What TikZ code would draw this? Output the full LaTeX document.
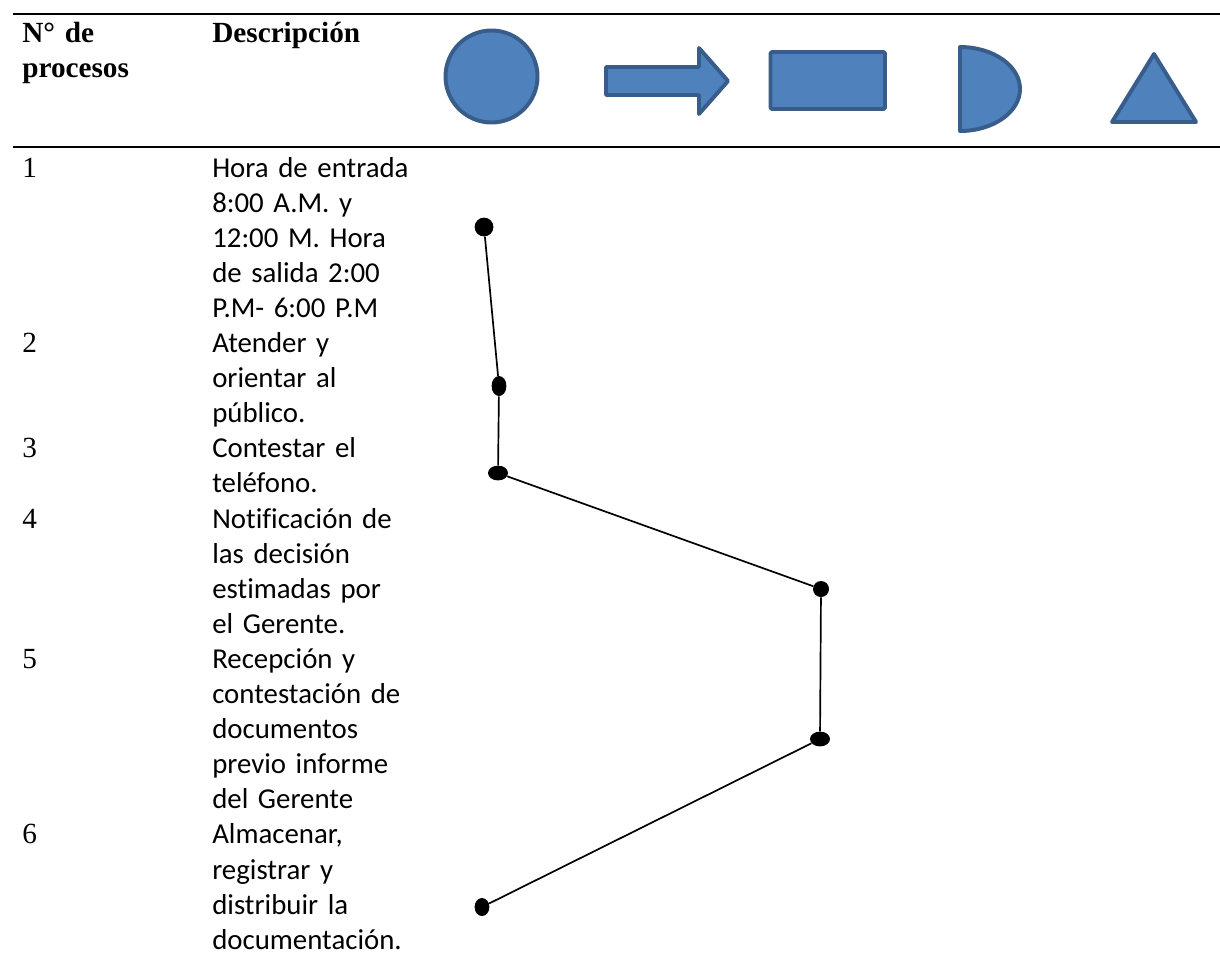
\documentclass[tikz,border=0pt]{standalone}
\usepackage{fontspec}
\setmainfont{Liberation Serif}
\newfontfamily\calibrifont[Ligatures=NoCommon]{Carlito}
\usetikzlibrary{shapes.geometric}

\definecolor{simbolofill}{HTML}{4F81BD}
\definecolor{simbololine}{HTML}{385D8A}

\tikzset{
  headtext/.style={anchor=base west, inner sep=0pt, text width=5cm, align=left,
    font=\fontsize{20.8}{24.9}\selectfont\bfseries},
  numtext/.style={anchor=base west, inner sep=0pt,
    font=\fontsize{20.8}{24.9}\selectfont},
  desctext/.style={anchor=base west, inner sep=0pt, text width=8cm, align=left,
    font=\calibrifont\fontsize{20.5}{24.97}\selectfont},
  simbolo/.style={fill=simbolofill, draw=simbololine, line width=2.8pt, line join=round},
  punto/.style={ellipse, fill=black, inner sep=0pt},
  link/.style={line width=1.2pt}
}

\begin{document}
\begin{tikzpicture}[x=0.025cm, y=-0.025cm]

    % Fix the page to the size of the sheet
    \useasboundingbox (0,0) rectangle (1220,969);

    % Draw the two rules of the table head
    \draw[line width=1.5pt] (13,14) -- (1220,14);
    \draw[line width=1.8pt] (13,147) -- (1220,147);

    % Column heads
    \node[headtext] (hnum) at (22,42) {N° de\\procesos};
    \node[headtext] (hdesc) at (212,42) {Descripción};

    % Process symbols in the head
    % Operation (circle)
    \filldraw[simbolo] (491.5,76.5) circle (1.15cm);
    % Transport (block arrow)
    \filldraw[simbolo] (606,67) -- (699,67) -- (699,48) -- (728,81) -- (699,114) -- (699,95) -- (606,95) -- cycle;
    % Inspection (rectangle)
    \filldraw[simbolo, rounded corners=1pt] (770.5,52) rectangle (885,109);
    % Delay (D shape)
    \filldraw[simbolo] (960,47) -- (960,131) .. controls (993.1,131) and (1020,112.2) .. (1020,89)
        .. controls (1020,65.8) and (993.1,47) .. (960,47) -- cycle;
    % Storage (triangle)
    \filldraw[simbolo] (1154,54) -- (1196,122) -- (1112,122) -- cycle;

    % Number of each process
    \node[numtext] (n1) at (22,177) {1};
    \node[numtext] (n2) at (22,352.5) {2};
    \node[numtext] (n3) at (22,457.8) {3};
    \node[numtext] (n4) at (22,528) {4};
    \node[numtext] (n5) at (22,668.4) {5};
    \node[numtext] (n6) at (22,843.9) {6};

    % Description of each process
    \node[desctext] (d1) at (212,177) {Hora de entrada\\8:00 A.M. y\\12:00 M. Hora\\de salida 2:00\\P.M- 6:00 P.M};
    \node[desctext] (d2) at (212,352.5) {Atender y\\orientar al\\público.};
    \node[desctext] (d3) at (212,457.8) {Contestar el\\teléfono.};
    \node[desctext] (d4) at (212,528) {Notificación de\\las decisión\\estimadas por\\el Gerente.};
    \node[desctext] (d5) at (212,668.4) {Recepción y\\contestación de\\documentos\\previo informe\\del Gerente};
    \node[desctext] (d6) at (212,843.9) {Almacenar,\\registrar y\\distribuir la\\documentación.};

    % Points of the process path
    \node[punto, minimum width=0.47cm, minimum height=0.47cm] (p1) at (484,227) {};
    \node[punto, minimum width=0.37cm, minimum height=0.5cm] (p2) at (499,386) {};
    \node[punto, minimum width=0.5cm, minimum height=0.37cm] (p3) at (498,473) {};
    \node[punto, minimum width=0.4cm, minimum height=0.4cm] (p4) at (821,589) {};
    \node[punto, minimum width=0.5cm, minimum height=0.37cm] (p5) at (820,739) {};
    \node[punto, minimum width=0.37cm, minimum height=0.45cm] (p6) at (482,907) {};

    % Join the points
    \draw[link] (p1) -- (p2) -- (p3) -- (p4) -- (p5) -- (p6);

\end{tikzpicture}
\end{document}
